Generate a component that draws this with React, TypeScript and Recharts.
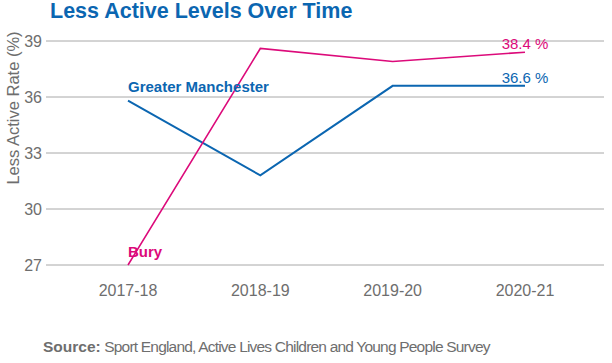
import { LineChart, Line, XAxis, YAxis, CartesianGrid, LabelList } from "recharts"

const seasons = ["2017-18", "2018-19", "2019-20", "2020-21"]
const buryRate = [27.0, 38.6, 37.9, 38.4]
const gmRate = [35.8, 31.8, 36.6, 36.6]
const yTicks = [27, 30, 33, 36, 39]

const BLUE = "#0b66b1"
const PINK = "#dc0a7a"
const GREY = "#6e6e6e"
const FONT = "'Liberation Sans', Arial, sans-serif"

const data = seasons.map((s, i) => ({ season: s, bury: buryRate[i], gm: gmRate[i] }))

// series name above the first point, value above the last point
const makeLabel = (name: string, color: string, nameGap: number) => (props: any) => {
  const { x, y, index, value } = props
  if (index === 0) {
    return (
      <text x={x} y={y - nameGap} fill={color} fontSize={15} fontWeight="bold" textAnchor="start">
        {name}
      </text>
    )
  }
  if (index === seasons.length - 1) {
    return (
      <text x={x} y={y - 3} fill={color} fontSize={15} textAnchor="middle">
        {`${Number(value).toFixed(1)} %`}
      </text>
    )
  }
  return null
}

export default function App() {
  return (
    <div style={{ position: "absolute", left: 0, top: 0, width: 612, height: 363, fontFamily: FONT, background: "#fff" }}>
      <LineChart width={612} height={363} data={data} margin={{ top: 41, right: 8, bottom: 58, left: 0 }}>
        <CartesianGrid vertical={false} stroke="#a8a8a8" strokeWidth={1} />
        <XAxis
          dataKey="season"
          axisLine={false}
          tickLine={false}
          tickSize={0}
          tickMargin={20}
          height={40}
          padding={{ left: 79, right: 79 }}
          tick={{ fill: GREY, fontSize: 16, fontFamily: FONT }}
        />
        <YAxis
          domain={[27, 39]}
          ticks={yTicks}
          width={49}
          axisLine={false}
          tickSize={3}
          tickMargin={4}
          tickLine={{ stroke: "#a8a8a8" }}
          tick={{ fill: GREY, fontSize: 16, fontFamily: FONT }}
        />
        <Line dataKey="gm" stroke={BLUE} strokeWidth={2} dot={false} isAnimationActive={false}>
          <LabelList dataKey="gm" content={makeLabel("Greater Manchester", BLUE, 9)} />
        </Line>
        <Line dataKey="bury" stroke={PINK} strokeWidth={1.6} dot={false} isAnimationActive={false}>
          <LabelList dataKey="bury" content={makeLabel("Bury", PINK, 8)} />
        </Line>
      </LineChart>
      <svg width={612} height={363} style={{ position: "absolute", left: 0, top: 0, pointerEvents: "none" }}>
        <text x={50} y={18} fill={BLUE} fontSize={21.5} fontWeight="bold" fontFamily={FONT}>
          Less Active Levels Over Time
        </text>
        <text
          x={0}
          y={0}
          transform="translate(19,108) rotate(-90)"
          textAnchor="middle"
          fill={GREY}
          fontSize={16.5}
          fontFamily={FONT}
        >
          Less Active Rate (%)
        </text>
        <text x={43} y={352} fill={GREY} fontSize={15.5} fontFamily={FONT}>
          <tspan fontWeight="bold">Source:</tspan>
          <tspan letterSpacing={-0.8}> Sport England, Active Lives Children and Young People Survey</tspan>
        </text>
      </svg>
    </div>
  )
}
